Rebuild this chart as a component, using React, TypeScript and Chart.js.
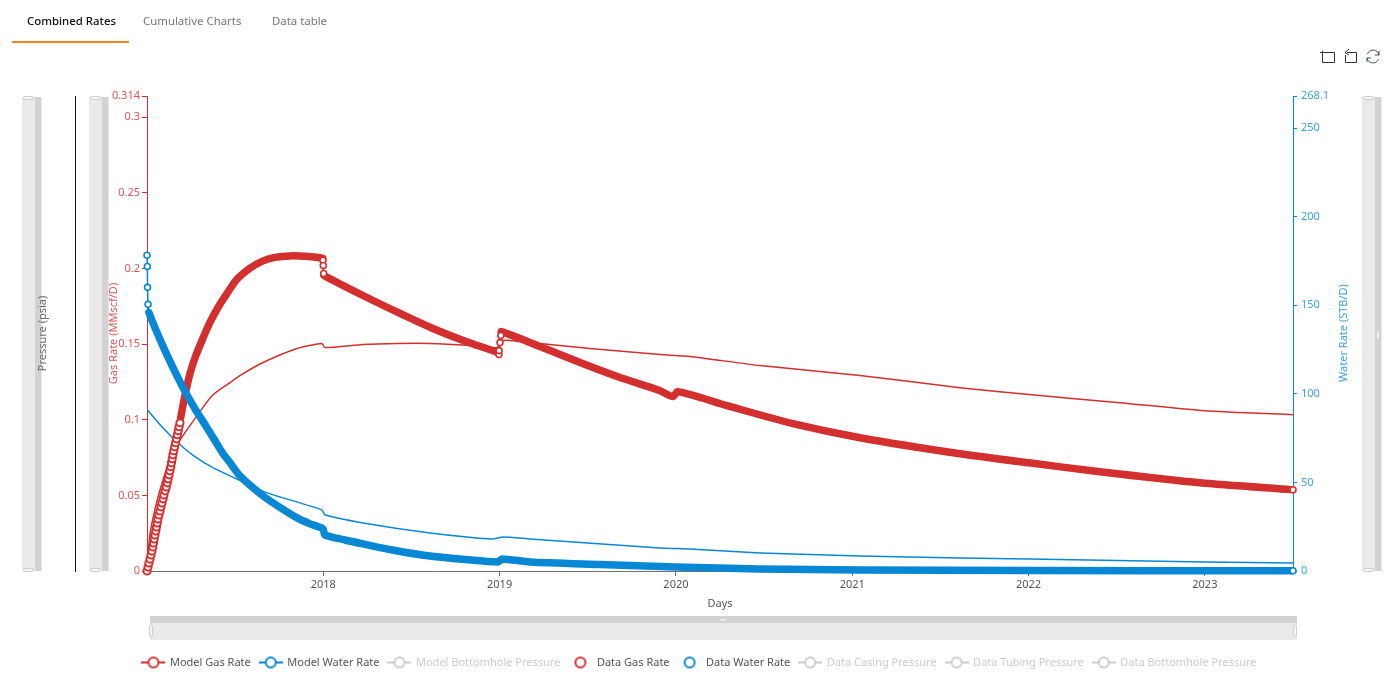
import React, { useEffect, useRef } from "react";
import { Chart, registerables } from "chart.js";

Chart.register(...registerables);

const RED = "#D32F2F";
const BLUE = "#0887D4";
const FONT = "'Noto Sans', sans-serif";

const tabLabels = ["Combined Rates", "Cumulative Charts", "Data table"];

const xTicks = [2018, 2019, 2020, 2021, 2022, 2023];
const gasTicks = [0, 0.05, 0.1, 0.15, 0.2, 0.25, 0.3, 0.314];
const waterTicks = [0, 50, 100, 150, 200, 250, 268.1];

const legendNames = [
  "Model Gas Rate",
  "Model Water Rate",
  "Model Bottomhole Pressure",
  "Data Gas Rate",
  "Data Water Rate",
  "Data Casing Pressure",
  "Data Tubing Pressure",
  "Data Bottomhole Pressure",
];

const modelGasYears = [
  2017.0, 2017.006, 2017.011, 2017.017, 2017.023, 2017.028, 2017.033, 2017.037, 2017.041, 2017.045,
  2017.05, 2017.054, 2017.058, 2017.062, 2017.068, 2017.074, 2017.079, 2017.085, 2017.091, 2017.096,
  2017.103, 2017.109, 2017.115, 2017.12, 2017.125, 2017.13, 2017.135, 2017.139, 2017.143, 2017.147,
  2017.152, 2017.157, 2017.162, 2017.167, 2017.172, 2017.177, 2017.182, 2017.187,
  2017.191, 2017.215, 2017.244, 2017.275, 2017.312, 2017.357, 2017.403, 2017.454, 2017.51, 2017.584, 2017.652, 2017.726, 2017.811, 2017.896, 2017.997,
  2017.998, 2018.0, 2018.002,
  2018.004, 2018.248, 2018.435, 2018.622, 2018.809, 2018.99,
  2018.996, 2018.997, 2019.002, 2019.007,
  2019.009, 2019.229, 2019.456, 2019.683, 2019.91, 2019.983, 2020.012, 2020.29, 2020.664, 2021.044,
  2021.611, 2022.003, 2022.405, 2022.972, 2023.489, 2023.5,
];
const modelGasRates = [
  0, 0.0026, 0.0053, 0.0079, 0.0106, 0.0132, 0.0159, 0.0185, 0.0212, 0.0238,
  0.0265, 0.0291, 0.0318, 0.0344, 0.0371, 0.0397, 0.0424, 0.045, 0.0477, 0.0503,
  0.053, 0.0556, 0.0583, 0.0609, 0.0636, 0.0662, 0.0689, 0.0715, 0.0742, 0.0768,
  0.0795, 0.0821, 0.0848, 0.0874, 0.0901, 0.0927, 0.0954, 0.098,
  0.1014, 0.1159, 0.1305, 0.1418, 0.1524, 0.1643, 0.1742, 0.1835, 0.1928, 0.2001, 0.2047, 0.2073, 0.2083, 0.208, 0.2067,
  0.2054, 0.202, 0.1967,
  0.1954, 0.1808, 0.1703, 0.1603, 0.1517, 0.1444,
  0.1431, 0.1457, 0.151, 0.1557,
  0.1583, 0.1484, 0.1378, 0.1279, 0.1192, 0.1153, 0.1186, 0.1093, 0.0974, 0.0881,
  0.0775, 0.0715, 0.0656, 0.0583, 0.0538, 0.0537,
];

const dataGasYears = [
  2017.0, 2017.017, 2017.057, 2017.102, 2017.147, 2017.176, 2017.272, 2017.369, 2017.488, 2017.527,
  2017.658, 2017.851, 2017.992, 2018.009, 2018.225, 2018.418, 2018.605, 2018.832, 2018.985, 2019.019,
  2019.115, 2019.512, 2019.909, 2020.079, 2020.476, 2021.044, 2021.611, 2022.003, 2022.519, 2023.0, 2023.5,
];
const dataGasRates = [
  0, 0.0245, 0.0464, 0.0643, 0.0795, 0.0848, 0.1007, 0.1159, 0.1259, 0.1292,
  0.1378, 0.1471, 0.1504, 0.1477, 0.1497, 0.1504, 0.1504, 0.1491, 0.1477, 0.1524,
  0.1517, 0.1471, 0.1431, 0.1418, 0.1358, 0.1292, 0.1212, 0.1166, 0.1113, 0.106, 0.1033,
];

const modelWaterYears = [
  2017.0, 2017.002, 2017.003, 2017.006,
  2017.011, 2017.102, 2017.204, 2017.272, 2017.34, 2017.386, 2017.431, 2017.471, 2017.527, 2017.658, 2017.754, 2017.851, 2017.925, 2017.998,
  2018.009, 2018.123, 2018.225, 2018.407, 2018.605, 2018.804, 2018.991, 2019.013, 2019.172, 2019.569, 2020.0, 2020.476, 2021.044, 2022.003, 2023.489, 2023.5,
];
const modelWaterRates = [
  178.2, 171.9, 160.1, 150.5,
  145.9, 124.4, 103.5, 91.6, 80.9, 73.5, 66.2, 61.1, 53.7, 42.4, 35.9, 30.0, 26.6, 23.8,
  20.4, 17.5, 15.3, 11.6, 8.5, 6.5, 5.1, 6.8, 5.1, 3.7, 2.3, 1.1, 0.6, 0.3, 0.1, 0.1,
];

const dataWaterYears = [
  2017.0, 2017.074, 2017.176, 2017.272, 2017.374, 2017.567, 2017.681, 2017.992, 2018.009, 2018.225,
  2018.605, 2018.957, 2019.019, 2019.172, 2019.909, 2020.079, 2020.476, 2021.044, 2021.611, 2022.003, 2023.0, 2023.5,
];
const dataWaterRates = [
  91.1, 82.6, 72.4, 64.5, 58.3, 49.2, 44.1, 34.5, 31.7, 27.1,
  21.5, 18.1, 19.2, 18.1, 13.0, 12.4, 10.2, 8.5, 7.4, 6.8, 5.1, 4.5,
];

const pts = (xs: number[], ys: number[]) => xs.map((x, i) => ({ x, y: ys[i] }));

const gasRising = (yr: number) => yr <= 2017.187;
const gasRinged = (yr: number) =>
  gasRising(yr) || (yr > 2017.9975 && yr < 2018.003) || (yr >= 2018.9955 && yr < 2019.008) || yr >= 2023.5;
const waterRinged = (yr: number) => yr <= 2017.006 || yr >= 2023.5;

function legendIcon(color: string, withLine: boolean) {
  const c = document.createElement("canvas");
  c.width = 24;
  c.height = 14;
  const g = c.getContext("2d")!;
  g.strokeStyle = color;
  g.lineWidth = 2;
  if (withLine) {
    g.beginPath();
    g.moveTo(0, 7);
    g.lineTo(24, 7);
    g.stroke();
  }
  g.beginPath();
  g.arc(12, 7, 5, 0, Math.PI * 2);
  g.fillStyle = "#fff";
  g.fill();
  g.stroke();
  return c;
}

const chrome = {
  id: "chrome",
  beforeDraw(chart: any) {
    const g = chart.ctx;
    const vertical = (x: number) => {
      g.fillStyle = "#EBEAE9";
      g.fillRect(x, 97, 13, 474);
      g.fillStyle = "#D2D2D2";
      g.fillRect(x + 13, 97, 6.5, 474);
      g.fillStyle = "#F6F6F6";
      g.strokeStyle = "#CFCFCF";
      g.lineWidth = 1;
      for (const y of [96, 568]) {
        g.beginPath();
        g.roundRect(x + 1.5, y + 0.5, 10, 3, 1.5);
        g.fill();
        g.stroke();
      }
    };
    vertical(22);
    vertical(89);
    vertical(1362);
    g.fillStyle = "#D2D2D2";
    g.fillRect(150, 616, 1147, 7);
    g.fillStyle = "#EBEAE9";
    g.fillRect(150, 623, 1147, 17);
    g.fillStyle = "#F6F6F6";
    g.strokeStyle = "#CFCFCF";
    for (const x of [149.5, 1293.5]) {
      g.beginPath();
      g.roundRect(x, 625.5, 3, 11, 1.5);
      g.fill();
      g.stroke();
    }
    g.fillStyle = "#EEE";
    g.fillRect(720, 619, 6, 1.5);
    g.fillRect(1377, 332, 2, 6);
  },
  afterDraw(chart: any) {
    const g = chart.ctx;
    g.save();
    g.translate(1344, 333);
    g.rotate(-Math.PI / 2);
    g.font = `11px ${FONT}`;
    g.fillStyle = "#3AA3E3";
    g.textAlign = "center";
    g.textBaseline = "middle";
    g.fillText("Water Rate (STB/D)", 0, 0);
    g.restore();
  },
};

export default function App() {
  const ref = useRef<HTMLCanvasElement>(null);

  useEffect(() => {
    document.body.style.margin = "0";
    const icons = [
      legendIcon(RED, true),
      legendIcon(BLUE, true),
      legendIcon("#CCCCCC", true),
      legendIcon(RED, false),
      legendIcon(BLUE, false),
      legendIcon("#CCCCCC", true),
      legendIcon("#CCCCCC", true),
      legendIcon("#CCCCCC", true),
    ];
    const thick = (
      ringed: (yr: number) => boolean,
      rising: (yr: number) => boolean,
      color: string,
      yAxisID: string,
      data: any[],
      order: number
    ) => ({
      type: "line",
      data,
      yAxisID,
      order,
      clip: false,
      borderColor: color,
      borderWidth: 7.5,
      borderCapStyle: "round",
      borderJoinStyle: "round",
      tension: 0.25,
      pointRadius: (c: any) => (c.raw && ringed(c.raw.x) ? (rising(c.raw.x) ? 3.6 : 3) : 0),
      pointBorderWidth: (c: any) => (c.raw && rising(c.raw.x) ? 2 : 1.6),
      pointBackgroundColor: "#fff",
      pointBorderColor: color,
      segment: {
        borderWidth: (c: any) => (ringed(c.p0.parsed.x) || ringed(c.p1.parsed.x) ? 1.5 : 7.5),
      },
    });
    const thin = (color: string, yAxisID: string, data: any[], order: number) => ({
      type: "line",
      data,
      yAxisID,
      order,
      borderColor: color,
      borderWidth: 1.5,
      pointRadius: 0,
      tension: 0.2,
    });
    const idle = () => ({ type: "line", data: [], hidden: true, yAxisID: "yP", order: 9 });
    const never = () => false;

    const series: any[] = [
      thick(gasRinged, gasRising, RED, "yGas", pts(modelGasYears, modelGasRates), 2),
      thick(waterRinged, never, BLUE, "yWater", pts(modelWaterYears, modelWaterRates), 1),
      idle(),
      thin(RED, "yGas", pts(dataGasYears, dataGasRates), 4),
      thin(BLUE, "yWater", pts(dataWaterYears, dataWaterRates), 3),
      idle(),
      idle(),
      idle(),
    ];
    series.forEach((s, i) => (s.label = legendNames[i]));

    const fixed = (ticks: number[]) => (scale: any) => {
      scale.ticks = ticks.map((value) => ({ value }));
    };

    const chart = new Chart(ref.current!, {
      type: "line",
      data: { datasets: series },
      plugins: [chrome],
      options: {
        responsive: false,
        animation: false,
        layout: { padding: { left: 0, right: 0, top: 96, bottom: 0 } },
        font: { family: FONT, size: 11 },
        plugins: {
          tooltip: { enabled: false },
          legend: {
            position: "bottom",
            labels: {
              usePointStyle: true,
              pointStyleWidth: 22,
              padding: 9,
              font: { family: FONT, size: 11 },
              generateLabels: () =>
                legendNames.map((text, i) => ({
                  text,
                  pointStyle: icons[i],
                  hidden: false,
                  datasetIndex: i,
                  fontColor: series[i].hidden ? "#CCCCCC" : "#555555",
                  lineWidth: 0,
                })),
            },
          },
        },
        scales: {
          x: {
            type: "linear",
            min: 2017,
            max: 2023.5,
            afterBuildTicks: fixed(xTicks),
            afterFit: (s: any) => {
              s.height = 77;
            },
            ticks: {
              autoSkip: false,
              maxRotation: 0,
              padding: 2,
              color: "#555555",
              font: { family: FONT, size: 11 },
              callback: (v: any) => String(v),
            },
            grid: { drawOnChartArea: false, tickLength: 5, tickColor: "#6E7079" },
            border: { color: "#6E7079" },
            title: {
              display: true,
              text: "Days",
              color: "#555555",
              font: { family: FONT, size: 11 },
              padding: { top: 0, bottom: 38 },
            },
          },
          yGas: {
            type: "linear",
            position: "left",
            min: 0,
            max: 0.314,
            weight: 0,
            afterBuildTicks: fixed(gasTicks),
            afterFit: (s: any) => {
              s.width = 72;
            },
            ticks: {
              autoSkip: false,
              padding: 2,
              color: "#E05555",
              font: { family: FONT, size: 11 },
              callback: (v: any) => String(v),
            },
            grid: { drawOnChartArea: false, tickLength: 5, tickColor: RED },
            border: { color: RED },
            title: {
              display: true,
              text: "Gas Rate (MMscf/D)",
              color: "#E05555",
              font: { family: FONT, size: 11 },
              padding: { top: 32, bottom: 0 },
            },
          },
          yP: {
            type: "linear",
            position: "left",
            min: 0,
            max: 1,
            weight: 1,
            afterFit: (s: any) => {
              s.width = 75;
            },
            ticks: { display: false },
            grid: { drawOnChartArea: false, drawTicks: false },
            border: { color: "#111111" },
            title: {
              display: true,
              text: "Pressure (psia)",
              color: "#666666",
              font: { family: FONT, size: 11 },
              padding: { top: 36, bottom: 0 },
            },
          },
          yWater: {
            type: "linear",
            position: "right",
            min: 0,
            max: 268.1,
            afterBuildTicks: fixed(waterTicks),
            afterFit: (s: any) => {
              s.width = 106;
            },
            ticks: {
              autoSkip: false,
              padding: 4,
              color: "#3AA3E3",
              font: { family: FONT, size: 11 },
              callback: (v: any) => String(v),
            },
            grid: { drawOnChartArea: false, tickLength: 4, tickColor: BLUE },
            border: { color: BLUE },
          },
        },
      } as any,
    } as any);
    return () => chart.destroy();
  }, []);

  const tabX = [27, 143, 272];
  return (
    <div style={{ position: "relative", width: 1399, height: 678, overflow: "hidden", background: "#fff" }}>
      <canvas ref={ref} width={1399} height={678} style={{ display: "block", position: "absolute", left: 0, top: 0 }} />
      {tabLabels.map((t, i) => (
        <div
          key={t}
          style={{
            position: "absolute",
            left: tabX[i],
            top: 13,
            font: `${i === 0 ? 500 : 400} 11.4px/16px ${FONT}`,
            color: i === 0 ? "#111" : "#777",
            whiteSpace: "nowrap",
          }}
        >
          {t}
        </div>
      ))}
      <div style={{ position: "absolute", left: 12, top: 41, width: 117, height: 2, background: "#F0851F" }} />
      <svg width={70} height={20} style={{ position: "absolute", left: 1318, top: 47 }} fill="none" stroke="#333" strokeWidth={1}>
        <path d="M4.5 3.5 V15.5 H16.5 V5.5 H2" />
        <path d="M29 5.5 H38.5 V15.5 H27.5 V8" />
        <path d="M31 2 L27 5.5 L31 8" />
        <path d="M49.5 7 A6 6 0 0 1 61 8 M61 4 V8 H57" stroke="#3D5166" />
        <path d="M60.5 12 A6 6 0 0 1 49 11 M49 15 V11 H53" stroke="#3D5166" />
      </svg>
    </div>
  );
}
